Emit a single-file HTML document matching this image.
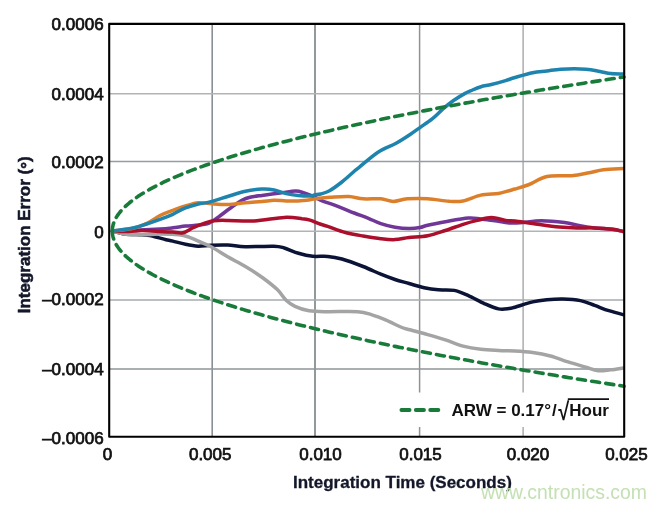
<!DOCTYPE html>
<html><head><meta charset="utf-8"><title>Integration Error vs Integration Time</title>
<style>
html,body{margin:0;padding:0;background:#fff;width:665px;height:509px;overflow:hidden}
svg{display:block}
.lab{stroke:#111111;stroke-width:0.75px}
</style></head><body>
<svg width="665" height="509" viewBox="0 0 665 509">
<rect width="665" height="509" fill="#ffffff"/>
<line x1="212.2" y1="23.9" x2="212.2" y2="436.7" stroke="#8a8f94" stroke-width="1.60"/>
<line x1="315.0" y1="23.9" x2="315.0" y2="436.7" stroke="#888d91" stroke-width="1.80"/>
<line x1="419.6" y1="23.9" x2="419.6" y2="436.7" stroke="#8e9398" stroke-width="1.50"/>
<line x1="523.1" y1="23.9" x2="523.1" y2="436.7" stroke="#989da1" stroke-width="1.25"/>
<line x1="109.2" y1="93.7" x2="624.2" y2="93.7" stroke="#afb4b8" stroke-width="1.5"/>
<line x1="109.2" y1="161.4" x2="624.2" y2="161.4" stroke="#979ca0" stroke-width="1.5"/>
<line x1="109.2" y1="231.3" x2="624.2" y2="231.3" stroke="#afb4b8" stroke-width="1.5"/>
<line x1="109.2" y1="300.1" x2="624.2" y2="300.1" stroke="#a7abaf" stroke-width="1.5"/>
<line x1="109.2" y1="369.0" x2="624.2" y2="369.0" stroke="#8e9498" stroke-width="1.5"/>
<rect x="395" y="392.5" width="226" height="34.5" fill="#ffffff"/>
<path d="M112.8 231.0 C114.7 231.5 119.1 233.3 124.0 233.9 C128.9 234.5 137.8 234.5 142.1 234.8 C146.4 235.1 147.3 235.1 150.0 235.6 C152.7 236.1 155.3 236.9 158.0 237.6 C160.7 238.3 163.5 239.1 166.0 239.7 C168.5 240.3 169.6 240.3 172.8 241.1 C176.1 241.9 181.2 243.5 185.5 244.3 C189.8 245.2 194.0 246.0 198.3 246.2 C202.6 246.3 206.2 245.4 211.1 245.2 C216.0 245.0 222.0 244.8 227.7 245.0 C233.4 245.2 237.7 246.5 245.4 246.7 C253.1 246.9 267.2 246.0 273.7 246.2 C280.2 246.4 280.2 246.8 284.3 248.0 C288.4 249.2 293.8 251.9 298.5 253.3 C303.2 254.7 307.8 255.8 312.7 256.3 C317.6 256.8 322.8 255.9 327.7 256.4 C332.6 256.8 336.0 257.3 341.9 259.0 C347.8 260.7 356.6 264.0 363.1 266.5 C369.6 269.0 375.5 272.0 380.8 274.2 C386.1 276.4 390.3 277.9 395.0 279.5 C399.7 281.1 404.2 282.1 409.1 283.5 C414.0 284.9 419.3 286.6 424.2 287.7 C429.1 288.8 433.3 289.4 438.3 289.8 C443.3 290.2 449.2 289.4 454.2 290.4 C459.2 291.4 463.4 293.5 468.4 295.7 C473.4 297.9 479.3 301.4 484.3 303.6 C489.3 305.8 494.4 308.1 498.5 308.9 C502.6 309.7 506.4 308.9 509.1 308.6 C511.9 308.3 511.1 308.3 515.0 307.2 C518.9 306.1 527.4 303.1 532.7 301.9 C538.0 300.7 541.9 300.3 546.9 299.8 C551.9 299.3 557.2 298.9 562.8 299.0 C568.4 299.1 575.2 299.5 580.5 300.6 C585.8 301.7 589.9 303.7 594.6 305.4 C599.3 307.1 604.1 309.2 608.8 310.7 C613.5 312.2 620.6 314.0 623.0 314.6" fill="none" stroke="#0b1336" stroke-width="3.5" stroke-linejoin="round" stroke-linecap="round"/>
<path d="M112.8 231.0 C114.7 231.5 119.1 233.3 124.0 233.9 C128.9 234.5 136.1 234.8 142.1 234.8 C148.1 234.8 153.8 234.1 160.0 234.1 C166.2 234.1 174.3 234.2 179.2 234.7 C184.1 235.2 186.2 236.2 189.4 237.3 C192.6 238.4 194.7 239.5 198.3 241.1 C201.9 242.7 206.2 244.2 211.1 246.8 C216.0 249.4 222.0 253.5 227.7 256.8 C233.4 260.1 239.5 263.0 245.4 266.5 C251.3 270.0 257.7 274.1 263.0 278.0 C268.3 281.9 273.4 285.9 277.3 289.6 C281.2 293.3 283.2 297.4 286.1 300.2 C289.1 303.0 291.2 304.6 295.0 306.4 C298.8 308.2 303.7 309.9 309.1 310.8 C314.6 311.7 319.6 311.6 327.7 311.7 C335.8 311.8 350.4 311.2 357.8 311.7 C365.2 312.2 367.3 313.5 372.0 314.9 C376.7 316.3 381.1 318.1 386.1 320.2 C391.1 322.3 398.0 325.9 402.0 327.5 C406.0 329.1 405.7 328.6 410.0 329.8 C414.3 331.0 421.8 332.9 427.7 334.6 C433.6 336.3 439.5 338.0 445.4 339.9 C451.3 341.8 457.2 344.5 463.1 346.1 C469.0 347.7 474.9 348.6 480.8 349.3 C486.7 350.0 492.8 350.2 498.5 350.5 C504.2 350.8 509.3 350.7 515.0 351.0 C520.7 351.3 526.8 351.7 532.7 352.5 C538.6 353.3 544.5 354.4 550.4 356.0 C556.3 357.6 562.2 360.0 568.1 361.9 C574.0 363.8 580.8 365.7 585.8 367.2 C590.8 368.7 594.1 370.3 598.2 370.7 C602.3 371.1 606.5 370.2 610.6 369.8 C614.7 369.4 620.9 368.3 623.0 368.0" fill="none" stroke="#a4a4a4" stroke-width="3.5" stroke-linejoin="round" stroke-linecap="round"/>
<path d="M112.8 231.0 C117.3 230.8 132.1 230.2 140.0 229.9 C147.9 229.6 154.5 229.3 160.0 229.0 C165.5 228.7 168.6 228.3 172.8 227.8 C177.1 227.3 181.7 226.5 185.5 226.1 C189.3 225.7 192.9 225.6 195.8 225.3 C198.7 225.1 200.8 224.9 203.0 224.6 C205.2 224.2 206.5 224.5 209.1 223.2 C211.7 221.9 214.8 219.6 218.7 216.8 C222.6 214.0 228.6 209.2 232.5 206.5 C236.4 203.8 239.0 201.8 241.9 200.3 C244.8 198.8 246.7 198.1 250.0 197.3 C253.3 196.5 257.0 196.1 262.0 195.4 C267.0 194.7 274.5 193.7 280.1 193.0 C285.7 192.3 291.7 191.0 295.7 191.0 C299.7 191.0 301.2 192.1 304.2 193.0 C307.2 193.9 310.8 195.4 313.8 196.7 C316.8 198.0 318.4 199.4 322.2 200.9 C326.0 202.4 331.2 203.9 336.5 205.9 C341.8 207.9 348.9 210.9 354.2 213.0 C359.5 215.1 364.0 216.5 368.4 218.3 C372.8 220.1 376.4 222.1 380.8 223.6 C385.2 225.1 390.3 226.4 395.0 227.2 C399.7 228.0 404.9 228.5 409.1 228.6 C413.3 228.7 416.9 228.1 420.0 227.5 C423.1 226.9 423.5 226.2 427.7 225.2 C431.9 224.2 438.6 222.9 445.4 221.7 C452.2 220.5 462.5 218.5 468.4 218.1 C474.3 217.7 476.4 218.6 480.8 219.0 C485.2 219.4 490.3 220.2 495.0 220.8 C499.7 221.5 504.9 222.6 509.1 222.9 C513.3 223.2 514.6 223.2 520.0 222.8 C525.4 222.5 534.1 220.8 541.5 220.8 C548.9 220.8 558.2 221.8 564.6 222.6 C571.0 223.4 575.0 224.9 580.0 225.8 C585.0 226.7 589.3 227.3 594.7 227.9 C600.1 228.5 607.6 228.7 612.3 229.3 C617.0 229.9 621.2 231.1 623.0 231.4" fill="none" stroke="#703798" stroke-width="3.5" stroke-linejoin="round" stroke-linecap="round"/>
<path d="M112.8 231.0 C115.4 231.1 123.7 231.7 128.6 231.6 C133.5 231.5 136.9 230.6 142.1 230.6 C147.3 230.6 154.9 231.2 160.0 231.5 C165.1 231.8 169.0 231.9 172.8 232.1 C176.6 232.3 179.6 233.5 183.0 232.8 C186.4 232.1 189.6 229.3 193.2 227.7 C196.8 226.1 201.3 224.4 204.7 223.2 C208.1 222.0 209.8 221.2 213.6 220.7 C217.4 220.2 220.9 220.3 227.7 220.4 C234.5 220.5 244.8 221.5 254.2 221.0 C263.6 220.5 276.3 217.8 284.3 217.4 C292.3 217.0 297.7 218.2 302.0 218.7 C306.3 219.1 307.0 219.2 310.0 220.1 C313.0 221.0 317.1 223.0 320.0 224.0 C322.9 225.0 323.5 224.9 327.7 226.3 C331.9 227.7 339.5 230.9 345.4 232.5 C351.3 234.1 357.2 235.0 363.1 236.0 C369.0 237.0 375.5 238.1 380.8 238.7 C386.1 239.3 390.3 239.8 395.0 239.6 C399.7 239.4 403.7 238.2 409.1 237.6 C414.6 237.0 421.6 237.0 427.7 235.8 C433.8 234.6 439.5 232.4 445.4 230.5 C451.3 228.6 457.8 226.0 463.1 224.3 C468.4 222.6 472.6 221.5 477.3 220.4 C482.0 219.3 486.7 217.6 491.4 217.6 C496.1 217.6 501.7 219.8 505.6 220.4 C509.5 221.0 510.5 220.5 515.0 221.0 C519.5 221.5 525.3 222.5 532.7 223.5 C540.1 224.5 551.8 226.3 559.2 227.0 C566.6 227.7 571.0 227.8 576.9 227.9 C582.8 228.1 588.8 227.7 594.7 227.9 C600.6 228.1 607.6 228.7 612.3 229.3 C617.0 229.9 621.2 231.1 623.0 231.4" fill="none" stroke="#ab0f2b" stroke-width="3.5" stroke-linejoin="round" stroke-linecap="round"/>
<path d="M112.8 231.0 C116.2 230.5 127.3 229.5 133.0 228.2 C138.7 226.9 142.5 225.4 147.0 223.3 C151.5 221.2 155.7 217.7 160.0 215.5 C164.3 213.3 168.6 212.0 172.8 210.4 C177.1 208.8 181.2 207.3 185.5 206.0 C189.8 204.7 194.2 203.2 198.3 202.8 C202.4 202.4 205.1 203.3 210.0 203.6 C214.9 203.9 221.8 204.7 227.7 204.5 C233.6 204.3 239.7 203.2 245.4 202.7 C251.1 202.2 257.2 201.9 262.0 201.5 C266.8 201.1 270.1 200.4 274.1 200.3 C278.1 200.2 282.1 200.8 286.1 200.9 C290.1 201.0 294.1 201.1 298.1 200.9 C302.1 200.7 307.0 200.1 310.2 199.7 C313.4 199.3 314.1 198.9 317.4 198.5 C320.7 198.1 324.8 197.6 330.0 197.3 C335.2 197.0 343.4 196.2 348.9 196.5 C354.4 196.8 357.8 198.4 363.1 198.8 C368.4 199.2 375.8 198.4 380.8 198.8 C385.8 199.2 388.8 201.4 393.2 201.4 C397.6 201.4 401.6 199.2 407.3 198.8 C413.1 198.4 420.8 198.3 427.7 198.7 C434.6 199.1 443.0 200.9 448.9 201.3 C454.8 201.7 457.8 202.0 463.1 201.0 C468.4 200.0 474.9 196.4 480.8 195.1 C486.7 193.8 493.8 194.1 498.5 193.4 C503.2 192.7 506.4 191.4 509.1 190.7 C511.9 190.0 511.6 190.0 515.0 189.0 C518.4 188.0 523.9 186.6 529.2 184.5 C534.5 182.4 539.8 178.0 546.9 176.5 C554.0 175.0 564.5 176.3 571.6 175.7 C578.7 175.1 584.0 173.7 589.3 172.7 C594.6 171.7 597.9 170.5 603.5 169.8 C609.1 169.1 619.8 168.8 623.0 168.6" fill="none" stroke="#dc7f2b" stroke-width="3.5" stroke-linejoin="round" stroke-linecap="round"/>
<path d="M112.8 231.0 C113.2 230.9 111.6 231.2 115.0 230.7 C118.4 230.2 127.7 229.1 133.0 228.0 C138.3 226.9 142.1 225.4 146.6 224.0 C151.1 222.6 155.6 221.0 160.0 219.4 C164.4 217.8 168.6 216.2 172.8 214.3 C177.1 212.4 181.2 209.6 185.5 207.9 C189.8 206.2 194.2 205.0 198.3 204.0 C202.4 203.0 205.1 203.2 210.0 201.9 C214.9 200.7 221.8 198.3 227.7 196.5 C233.6 194.7 239.7 192.4 245.4 191.2 C251.1 190.0 257.2 189.3 262.0 189.1 C266.8 188.9 270.1 189.2 274.1 190.0 C278.1 190.8 282.1 192.7 286.1 193.6 C290.1 194.5 294.1 195.0 298.1 195.4 C302.1 195.8 307.4 196.1 310.2 196.0 C313.0 195.9 313.3 195.1 315.0 194.8 C316.7 194.5 318.2 194.7 320.6 194.0 C323.0 193.3 325.9 192.8 329.5 190.8 C333.1 188.8 337.8 185.2 341.9 182.0 C346.0 178.8 351.2 173.9 354.2 171.3 C357.2 168.7 356.0 169.8 360.0 166.6 C364.0 163.4 372.0 156.1 378.0 152.2 C384.0 148.3 390.7 146.2 396.1 143.2 C401.5 140.2 406.6 136.8 410.5 134.2 C414.4 131.6 416.0 130.4 419.6 127.8 C423.2 125.2 428.3 121.9 432.2 118.8 C436.1 115.7 439.4 112.0 443.0 108.9 C446.6 105.8 450.3 102.8 453.9 100.3 C457.5 97.8 461.6 95.3 464.7 93.6 C467.8 91.9 469.8 91.2 472.5 90.0 C475.2 88.8 477.9 87.6 481.0 86.7 C484.1 85.8 487.3 85.5 491.4 84.5 C495.5 83.5 501.7 81.8 505.6 80.6 C509.5 79.4 510.5 78.8 515.0 77.5 C519.5 76.2 527.4 73.8 532.7 72.7 C538.0 71.6 542.2 71.6 546.9 71.0 C551.6 70.4 554.5 69.5 561.0 69.2 C567.5 68.9 579.3 68.8 585.8 69.2 C592.3 69.6 595.9 70.8 600.0 71.5 C604.1 72.2 606.8 73.2 610.6 73.6 C614.4 74.0 620.9 73.9 623.0 74.0" fill="none" stroke="#1e84ae" stroke-width="3.5" stroke-linejoin="round" stroke-linecap="round"/>
<path d="M112.30 231.00 L112.31 230.23 L112.35 229.46 L112.42 228.69 L112.50 227.92 L112.62 227.15 L112.76 226.38 L112.93 225.61 L113.12 224.84 L113.34 224.07 L113.58 223.30 L113.85 222.53 L114.14 221.76 L114.46 220.99 L114.81 220.22 L115.18 219.45 L115.57 218.68 L116.00 217.91 L116.44 217.14 L116.92 216.37 L117.42 215.60 L117.94 214.83 L118.49 214.06 L119.07 213.29 L119.67 212.52 L120.30 211.75 L120.95 210.98 L121.63 210.21 L122.33 209.44 L123.06 208.67 L123.81 207.90 L124.59 207.13 L125.40 206.36 L126.23 205.59 L127.09 204.82 L127.97 204.05 L128.88 203.28 L129.81 202.51 L130.77 201.74 L131.76 200.97 L132.77 200.20 L133.80 199.43 L134.87 198.66 L135.95 197.89 L137.07 197.12 L138.20 196.35 L139.37 195.58 L140.56 194.81 L141.77 194.04 L143.01 193.27 L144.28 192.50 L145.57 191.73 L146.89 190.96 L148.23 190.19 L149.60 189.42 L151.00 188.65 L152.42 187.88 L153.86 187.11 L155.33 186.34 L156.83 185.57 L158.35 184.80 L159.90 184.03 L161.47 183.26 L163.07 182.49 L164.70 181.72 L166.35 180.95 L168.02 180.18 L169.73 179.41 L171.45 178.64 L173.21 177.87 L174.98 177.10 L176.79 176.33 L178.62 175.56 L180.47 174.79 L182.35 174.02 L184.26 173.25 L186.19 172.48 L188.15 171.71 L190.13 170.94 L192.14 170.17 L194.17 169.40 L196.23 168.63 L198.32 167.86 L200.43 167.09 L202.56 166.32 L204.73 165.55 L206.91 164.78 L209.13 164.01 L211.37 163.24 L213.63 162.47 L215.92 161.70 L218.23 160.93 L220.58 160.16 L222.94 159.39 L225.33 158.62 L227.75 157.85 L230.20 157.08 L232.66 156.31 L235.16 155.54 L237.68 154.77 L240.22 154.00 L242.80 153.23 L245.39 152.46 L248.02 151.69 L250.66 150.92 L253.34 150.15 L256.04 149.38 L258.76 148.61 L261.51 147.84 L264.29 147.07 L267.09 146.30 L269.92 145.53 L272.77 144.76 L275.65 143.99 L278.55 143.22 L281.48 142.45 L284.44 141.68 L287.42 140.91 L290.42 140.14 L293.45 139.37 L296.51 138.60 L299.59 137.83 L302.70 137.06 L305.84 136.29 L309.00 135.52 L312.18 134.75 L315.39 133.98 L318.63 133.21 L321.89 132.44 L325.18 131.67 L328.49 130.90 L331.83 130.13 L335.20 129.36 L338.59 128.59 L342.00 127.82 L345.44 127.05 L348.91 126.28 L352.40 125.51 L355.92 124.74 L359.46 123.97 L363.03 123.20 L366.63 122.43 L370.25 121.66 L373.89 120.89 L377.57 120.12 L381.26 119.35 L384.98 118.58 L388.73 117.81 L392.51 117.04 L396.31 116.27 L400.13 115.50 L403.98 114.73 L407.86 113.96 L411.76 113.19 L415.69 112.42 L419.64 111.65 L423.62 110.88 L427.62 110.11 L431.65 109.34 L435.71 108.57 L439.79 107.80 L443.89 107.03 L448.03 106.26 L452.18 105.49 L456.37 104.72 L460.58 103.95 L464.81 103.18 L469.07 102.41 L473.36 101.64 L477.67 100.87 L482.00 100.10 L486.37 99.33 L490.75 98.56 L495.17 97.79 L499.61 97.02 L504.07 96.25 L508.56 95.48 L513.08 94.71 L517.62 93.94 L522.18 93.17 L526.78 92.40 L531.40 91.63 L536.04 90.86 L540.71 90.09 L545.40 89.32 L550.12 88.55 L554.87 87.78 L559.64 87.01 L564.44 86.24 L569.26 85.47 L574.11 84.70 L578.98 83.93 L583.88 83.16 L588.81 82.39 L593.76 81.62 L598.73 80.85 L603.74 80.08 L608.76 79.31 L613.82 78.54 L618.90 77.77 L624.00 77.00" fill="none" stroke="#187b3a" stroke-width="3.6" stroke-dasharray="8.1 6.21" stroke-linecap="round"/>
<path d="M112.30 231.00 L112.31 231.78 L112.35 232.55 L112.42 233.33 L112.50 234.10 L112.62 234.88 L112.76 235.66 L112.93 236.43 L113.12 237.21 L113.34 237.98 L113.58 238.76 L113.85 239.54 L114.14 240.31 L114.46 241.09 L114.81 241.86 L115.18 242.64 L115.57 243.42 L116.00 244.19 L116.44 244.97 L116.92 245.74 L117.42 246.52 L117.94 247.30 L118.49 248.07 L119.07 248.85 L119.67 249.62 L120.30 250.40 L120.95 251.18 L121.63 251.95 L122.33 252.73 L123.06 253.50 L123.81 254.28 L124.59 255.06 L125.40 255.83 L126.23 256.61 L127.09 257.38 L127.97 258.16 L128.88 258.94 L129.81 259.71 L130.77 260.49 L131.76 261.26 L132.77 262.04 L133.80 262.82 L134.87 263.59 L135.95 264.37 L137.07 265.14 L138.20 265.92 L139.37 266.70 L140.56 267.47 L141.77 268.25 L143.01 269.02 L144.28 269.80 L145.57 270.58 L146.89 271.35 L148.23 272.13 L149.60 272.90 L151.00 273.68 L152.42 274.46 L153.86 275.23 L155.33 276.01 L156.83 276.78 L158.35 277.56 L159.90 278.34 L161.47 279.11 L163.07 279.89 L164.70 280.66 L166.35 281.44 L168.02 282.22 L169.73 282.99 L171.45 283.77 L173.21 284.54 L174.98 285.32 L176.79 286.10 L178.62 286.87 L180.47 287.65 L182.35 288.42 L184.26 289.20 L186.19 289.98 L188.15 290.75 L190.13 291.53 L192.14 292.30 L194.17 293.08 L196.23 293.86 L198.32 294.63 L200.43 295.41 L202.56 296.18 L204.73 296.96 L206.91 297.74 L209.13 298.51 L211.37 299.29 L213.63 300.06 L215.92 300.84 L218.23 301.62 L220.58 302.39 L222.94 303.17 L225.33 303.94 L227.75 304.72 L230.20 305.50 L232.66 306.27 L235.16 307.05 L237.68 307.82 L240.22 308.60 L242.80 309.38 L245.39 310.15 L248.02 310.93 L250.66 311.70 L253.34 312.48 L256.04 313.26 L258.76 314.03 L261.51 314.81 L264.29 315.58 L267.09 316.36 L269.92 317.14 L272.77 317.91 L275.65 318.69 L278.55 319.46 L281.48 320.24 L284.44 321.02 L287.42 321.79 L290.42 322.57 L293.45 323.34 L296.51 324.12 L299.59 324.90 L302.70 325.67 L305.84 326.45 L309.00 327.22 L312.18 328.00 L315.39 328.78 L318.63 329.55 L321.89 330.33 L325.18 331.10 L328.49 331.88 L331.83 332.66 L335.20 333.43 L338.59 334.21 L342.00 334.98 L345.44 335.76 L348.91 336.54 L352.40 337.31 L355.92 338.09 L359.46 338.86 L363.03 339.64 L366.63 340.42 L370.25 341.19 L373.89 341.97 L377.57 342.74 L381.26 343.52 L384.98 344.30 L388.73 345.07 L392.51 345.85 L396.31 346.62 L400.13 347.40 L403.98 348.18 L407.86 348.95 L411.76 349.73 L415.69 350.50 L419.64 351.28 L423.62 352.06 L427.62 352.83 L431.65 353.61 L435.71 354.38 L439.79 355.16 L443.89 355.94 L448.03 356.71 L452.18 357.49 L456.37 358.26 L460.58 359.04 L464.81 359.82 L469.07 360.59 L473.36 361.37 L477.67 362.14 L482.00 362.92 L486.37 363.70 L490.75 364.47 L495.17 365.25 L499.61 366.02 L504.07 366.80 L508.56 367.58 L513.08 368.35 L517.62 369.13 L522.18 369.90 L526.78 370.68 L531.40 371.46 L536.04 372.23 L540.71 373.01 L545.40 373.78 L550.12 374.56 L554.87 375.34 L559.64 376.11 L564.44 376.89 L569.26 377.66 L574.11 378.44 L578.98 379.22 L583.88 379.99 L588.81 380.77 L593.76 381.54 L598.73 382.32 L603.74 383.10 L608.76 383.87 L613.82 384.65 L618.90 385.42 L624.00 386.20" fill="none" stroke="#187b3a" stroke-width="3.6" stroke-dasharray="8.1 6.21" stroke-linecap="round"/>
<rect x="109.2" y="23.9" width="515.0" height="412.8" fill="none" stroke="#000000" stroke-width="2.1" stroke-linejoin="round"/>
<line x1="401.4" y1="410" x2="440" y2="410" stroke="#187b3a" stroke-width="3.8" stroke-dasharray="8.2 6.2" stroke-linecap="round"/>
<text x="451.5" y="415.6" font-size="17" font-weight="bold" font-family="'Liberation Sans', Arial, Helvetica, sans-serif" fill="#111111">ARW = 0.17°<tspan dx="1">/</tspan></text>
<text transform="translate(558.2 419.6) scale(0.8 1)" font-size="25" font-weight="bold" font-family="'Liberation Sans', Arial, Helvetica, sans-serif" fill="#111111">√</text>
<line x1="567.8" y1="399.2" x2="609" y2="399.2" stroke="#111111" stroke-width="1.7"/>
<text x="569.3" y="415.6" font-size="17" font-weight="bold" font-family="'Liberation Sans', Arial, Helvetica, sans-serif" fill="#111111">Hour</text>
<text x="103.6" y="29.5" font-size="17" text-anchor="end" class="lab" font-family="'Liberation Sans', Arial, Helvetica, sans-serif" fill="#111111">0.0006</text>
<text x="103.6" y="100.0" font-size="17" text-anchor="end" class="lab" font-family="'Liberation Sans', Arial, Helvetica, sans-serif" fill="#111111">0.0004</text>
<text x="103.6" y="167.5" font-size="17" text-anchor="end" class="lab" font-family="'Liberation Sans', Arial, Helvetica, sans-serif" fill="#111111">0.0002</text>
<text x="103.6" y="238.1" font-size="17" text-anchor="end" class="lab" font-family="'Liberation Sans', Arial, Helvetica, sans-serif" fill="#111111">0</text>
<text x="103.6" y="305.2" font-size="17" text-anchor="end" class="lab" font-family="'Liberation Sans', Arial, Helvetica, sans-serif" fill="#111111">–0.0002</text>
<text x="103.6" y="374.5" font-size="17" text-anchor="end" class="lab" font-family="'Liberation Sans', Arial, Helvetica, sans-serif" fill="#111111">–0.0004</text>
<text x="103.6" y="443.9" font-size="17" text-anchor="end" class="lab" font-family="'Liberation Sans', Arial, Helvetica, sans-serif" fill="#111111">–0.0006</text>
<text x="107.4" y="460.0" font-size="17" text-anchor="middle" class="lab" font-family="'Liberation Sans', Arial, Helvetica, sans-serif" fill="#111111">0</text>
<text x="210.2" y="460.0" font-size="17" text-anchor="middle" class="lab" font-family="'Liberation Sans', Arial, Helvetica, sans-serif" fill="#111111">0.005</text>
<text x="320.5" y="460.0" font-size="17" text-anchor="middle" class="lab" font-family="'Liberation Sans', Arial, Helvetica, sans-serif" fill="#111111">0.010</text>
<text x="420.5" y="460.0" font-size="17" text-anchor="middle" class="lab" font-family="'Liberation Sans', Arial, Helvetica, sans-serif" fill="#111111">0.015</text>
<text x="528.0" y="460.0" font-size="17" text-anchor="middle" class="lab" font-family="'Liberation Sans', Arial, Helvetica, sans-serif" fill="#111111">0.020</text>
<text x="626.4" y="460.0" font-size="17" text-anchor="middle" class="lab" font-family="'Liberation Sans', Arial, Helvetica, sans-serif" fill="#111111">0.025</text>
<text x="293" y="488" font-size="17" font-weight="bold" font-family="'Liberation Sans', Arial, Helvetica, sans-serif" fill="#131729" stroke="#131729" stroke-width="0.3">Integration Time (Seconds)</text>
<text transform="translate(29.5 313.3) rotate(-90)" x="0" y="0" font-size="17" font-weight="bold" font-family="'Liberation Sans', Arial, Helvetica, sans-serif" fill="#131729" stroke="#131729" stroke-width="0.55">Integration Error (<tspan dy="3.3">°</tspan><tspan dy="-3.3">)</tspan></text>
<text x="481" y="499.4" font-size="19.4" font-family="'Liberation Sans', Arial, Helvetica, sans-serif" fill="#c4e0b4">www.cntronics.com</text>
</svg>
</body></html>
